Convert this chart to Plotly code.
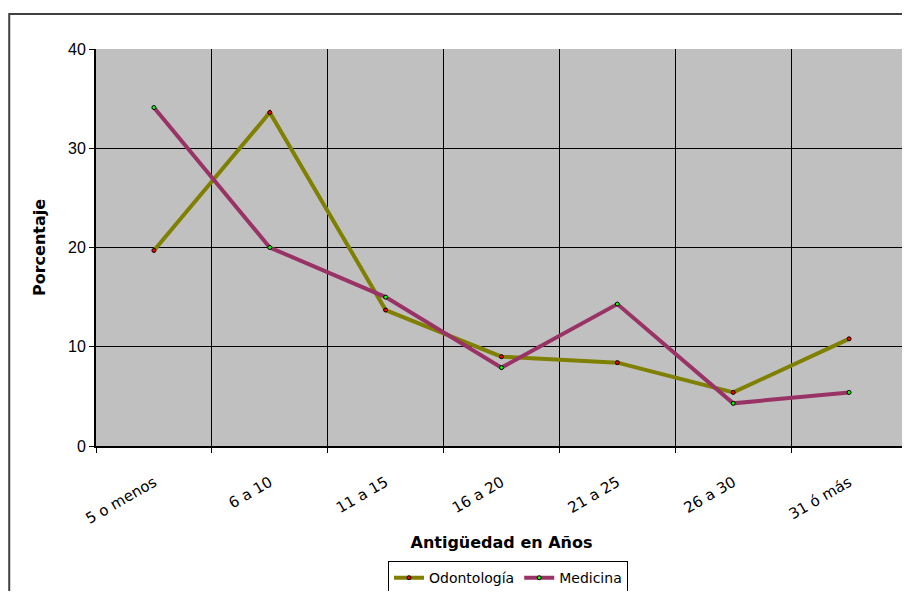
import plotly.graph_objects as go

# Datos
categorias = ["5 o menos", "6 a 10", "11 a 15", "16 a 20", "21 a 25", "26 a 30", "31 ó más"]
odontologia = [19.7, 33.6, 13.7, 9.0, 8.4, 5.4, 10.8]
medicina = [34.1, 20.0, 15.0, 7.9, 14.3, 4.3, 5.4]
y_ticks = [0, 10, 20, 30, 40]

FONT = "DejaVu Sans, Arial, sans-serif"
FONT_NUM = "Liberation Sans Narrow, Liberation Sans, Arial, sans-serif"

fig = go.Figure()

fig.add_trace(
    go.Scatter(
        x=categorias,
        y=odontologia,
        name="Odontología",
        mode="lines+markers",
        line=dict(color="#808000", width=4),
        marker=dict(size=4, color="#FF0000", line=dict(color="black", width=1)),
    )
)

fig.add_trace(
    go.Scatter(
        x=categorias,
        y=medicina,
        name="Medicina",
        mode="lines+markers",
        line=dict(color="#993366", width=4),
        marker=dict(size=4, color="#00FF00", line=dict(color="black", width=1)),
    )
)

# la página tiene 8px de margen en el body, se compensa aquí
fig.update_layout(
    width=902,
    height=583,
    margin=dict(l=88, r=3, t=41, b=145, autoexpand=False),
    paper_bgcolor="white",
    plot_bgcolor="#C0C0C0",
    font=dict(family=FONT, size=15, color="black"),
    showlegend=True,
    legend=dict(
        orientation="h",
        x=0.508,
        xanchor="center",
        y=-0.29,
        yanchor="top",
        bgcolor="white",
        bordercolor="black",
        borderwidth=1,
        font=dict(size=14),
    ),
    xaxis=dict(
        type="category",
        range=[-0.5, len(categorias) - 0.5],
        automargin=False,
        tickson="boundaries",
        ticks="outside",
        ticklen=5,
        tickcolor="black",
        tickangle=-30,
        ticklabelstandoff=20,
        tickfont=dict(size=15),
        showgrid=True,
        gridcolor="black",
        gridwidth=1,
        showline=True,
        linecolor="black",
        linewidth=2,
        title=dict(text="<b>Antigüedad en Años</b>", font=dict(size=16), standoff=10),
    ),
    yaxis=dict(
        range=[0, 40],
        automargin=False,
        tickvals=y_ticks,
        ticks="outside",
        ticklen=5,
        tickcolor="black",
        tickfont=dict(family=FONT_NUM, size=16),
        showgrid=True,
        gridcolor="black",
        gridwidth=1,
        zeroline=False,
        showline=True,
        linecolor="black",
        linewidth=2,
        title=dict(text="<b>Porcentaje</b>", font=dict(size=16), standoff=18),
    ),
)

# Borde exterior del gráfico
fig.add_shape(
    type="rect",
    xref="paper",
    yref="paper",
    x0=-0.107,
    x1=1.05,
    y0=-0.5,
    y1=1.088,
    line=dict(color="#404040", width=2),
    fillcolor="rgba(0,0,0,0)",
    layer="above",
)

fig.write_html("out.html")
